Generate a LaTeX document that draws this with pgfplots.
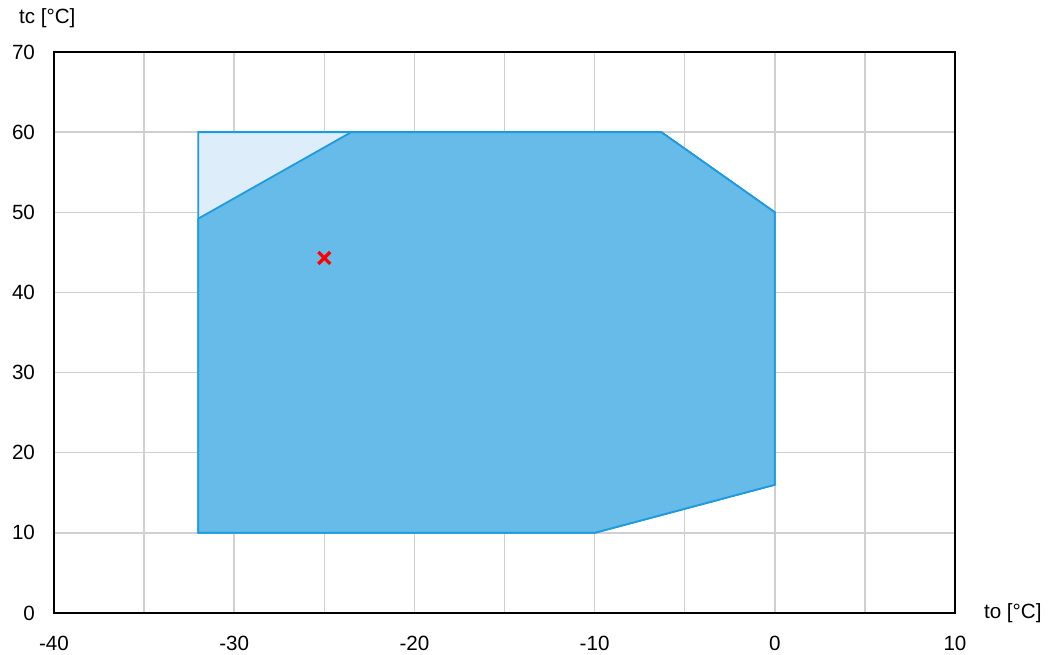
\documentclass[border=0pt]{standalone}
\usepackage{pgfplots}
\pgfplotsset{compat=1.18}
\usepackage{fontspec}
\setmainfont{Liberation Sans}
\definecolor{edgeblue}{HTML}{1E9BDF}
\definecolor{darkfill}{HTML}{66BBE8}
\definecolor{lightfill}{HTML}{DDEEFA}
\definecolor{gridgray}{HTML}{D0D0D0}
\begin{document}
\begin{tikzpicture}
\begin{axis}[
  scale only axis,
  width=450.5pt, height=280.5pt,
  xmin=-40, xmax=10, ymin=0, ymax=70,
  xtick={-40,-30,...,10},
  ytick={0,10,...,70},
  minor xtick={-35,-25,...,5},
  grid=both,
  major grid style={gridgray, line width=0.75pt},
  minor grid style={gridgray, line width=0.75pt},
  major tick length=0pt, minor tick length=0pt,
  axis line style={black, line width=0.6pt},
  tick label style={font=\fontsize{10.3}{12}\selectfont, black},
  /pgf/number format/assume math mode=true,
  xticklabel style={yshift=-8pt},
  yticklabel style={xshift=-6pt},
  axis on top=false,
  clip=false,
]
\addplot[fill=lightfill, draw=edgeblue, line width=0.9pt] coordinates {
 (-32,10) (-32,60) (-6.3,60) (0,50) (0,16) (-10,10)} -- cycle;
\addplot[fill=darkfill, draw=edgeblue, line width=0.9pt] coordinates {
 (-32,10) (-32,49.2) (-23.5,60) (-6.3,60) (0,50) (0,16) (-10,10)} -- cycle;
\addplot[only marks, mark=x, mark size=4.2pt, red, mark options={line width=1.6pt}] coordinates {(-25,44.3)};
\node[anchor=west, font=\fontsize{10.3}{12}\selectfont] at ([xshift=-21pt,yshift=17pt]rel axis cs:0,1) {tc [°C]};
\node[anchor=west, font=\fontsize{10.3}{12}\selectfont] at ([xshift=11pt]rel axis cs:1,0) {to [°C]};
\end{axis}
\pgfresetboundingbox
\useasboundingbox ([xshift=-27pt,yshift=-21pt]current axis.south west) rectangle ([xshift=46.5pt,yshift=26pt]current axis.north east);
\end{tikzpicture}
\end{document}
